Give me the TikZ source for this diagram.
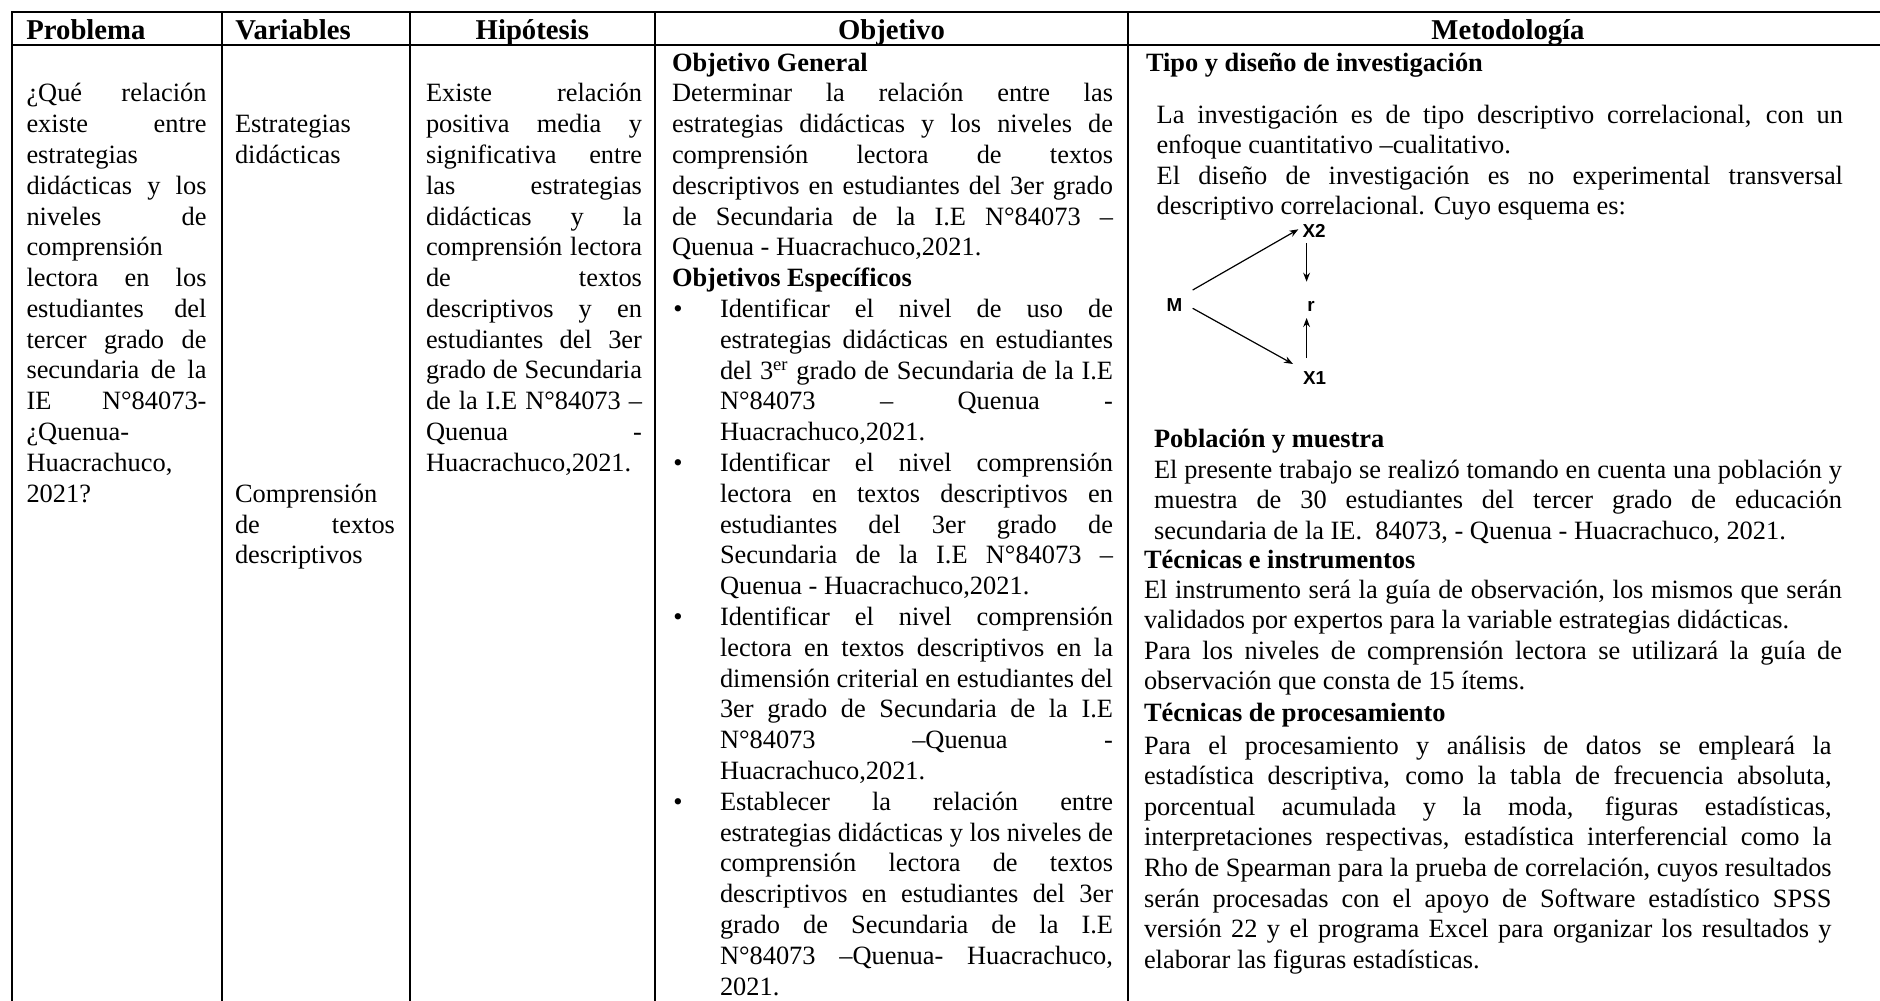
\documentclass[tikz,border=0pt]{standalone}
\usepackage{fontspec}
\setmainfont{Liberation Serif}
\newfontfamily\diagfont{Liberation Sans}
\usepackage{graphicx}
\usetikzlibrary{arrows.meta}
\newlength\jtmp
\newcommand\J[1]{{\spaceskip=0pt\xspaceskip=0pt\settowidth\jtmp{#1}\ifdim\jtmp>\linewidth\pgfmathsetmacro\jfac{\linewidth/\jtmp}\scalebox{\jfac}[1]{#1}\else\makebox[\linewidth][s]{#1}\fi}}
\newcommand\bodyfont{\fontsize{13.2}{15.4}\selectfont}
\newcommand\metfont{\fontsize{13.2}{15.3}\selectfont}
\newcommand\headfont{\fontsize{14.35}{16}\selectfont\bfseries}
\begin{document}
\begin{tikzpicture}[x=0.5pt,y=-0.5pt,
  grid/.style={line width=1.1pt},
  cell/.style={anchor=base west,inner sep=0pt,outer sep=0pt,align=justify,font=\bodyfont},
  mcell/.style={anchor=base west,inner sep=0pt,outer sep=0pt,align=justify,font=\metfont},
  hd/.style={anchor=base,inner sep=0pt,font=\headfont},
  bul/.style={anchor=base,inner sep=0pt,font=\bodyfont},
  lab/.style={inner sep=0pt,font=\diagfont\bfseries\fontsize{9.4}{11}\selectfont},
  arr/.style={line width=0.6pt,-{Stealth[length=4.5pt,width=3.4pt]}}]
\useasboundingbox (0,0) rectangle (1880,1001);
% grid
\draw[grid] (1880,11.7) -- (11.7,11.7) -- (11.7,1001);
\draw[grid] (11.7,45) -- (1880,45);
\foreach \xx in {221.7,409.6,655,1128} \draw[grid] (\xx,11.7) -- (\xx,1001);
% headers
\node[hd,anchor=base west] (hP) at (26,39.5) {Problema};
\node[hd,anchor=base west] (hV) at (235,39.5) {Variables};
\node[hd] (hH) at (532.3,39.5) {Hipótesis};
\node[hd] (hO) at (891.5,39.5) {Objetivo};
\node[hd] (hM) at (1508,39.5) {Metodología};
% Problema
\node[cell,text width=90pt] (prob) at (26.5,101.8) {%
\J{¿Qué relación}\\
\J{existe entre}\\
estrategias\\
\J{didácticas y los}\\
\J{niveles de}\\
comprensión\\
\J{lectora en los}\\
\J{estudiantes del}\\
\J{tercer grado de}\\
\J{secundaria de la}\\
\J{IE N°84073-}\\
¿Quenua-\\
Huacrachuco,\\
2021?};
% Variables
\node[cell,text width=80pt] (var1) at (235,132.6) {Estrategias\\didácticas};
\node[cell,text width=80pt] (var2) at (235,502.2) {Comprensión\\\J{de textos}\\descriptivos};
% Hipotesis
\node[cell,text width=108pt] (hip) at (426,101.8) {%
\J{Existe relación}\\
\J{positiva media y}\\
\J{significativa entre}\\
\J{las estrategias}\\
\J{didácticas y la}\\
\J{comprensión lectora}\\
\J{de textos}\\
\J{descriptivos y en}\\
\J{estudiantes del 3er}\\
\J{grado de Secundaria}\\
\J{de la I.E N°84073 –}\\
\J{Quenua -}\\
Huacrachuco,2021.};
% Objetivo
\node[cell,font=\bodyfont\bfseries] (ogh) at (672,71) {Objetivo General};
\node[cell,text width=220.5pt] (ogt) at (672,101.8) {%
\J{Determinar la relación entre las}\\
\J{estrategias didácticas y los niveles de}\\
\J{comprensión lectora de textos}\\
\J{descriptivos en estudiantes del 3er grado}\\
\J{de Secundaria de la I.E N°84073 –}\\
Quenua - Huacrachuco,2021.};
\node[cell,font=\bodyfont\bfseries] (oeh) at (672,286.6) {Objetivos Específicos};
\node[bul] (d1) at (678,317.4) {\textbullet};
\node[cell,text width=196.5pt] (b1) at (720,317.4) {%
\J{Identificar el nivel de uso de}\\
\J{estrategias didácticas en estudiantes}\\
\J{del 3\textsuperscript{er} grado de Secundaria de la I.E}\\
\J{N°84073 – Quenua -}\\
Huacrachuco,2021.};
\node[bul] (d2) at (678,471.4) {\textbullet};
\node[cell,text width=196.5pt] (b2) at (720,471.4) {%
\J{Identificar el nivel comprensión}\\
\J{lectora en textos descriptivos en}\\
\J{estudiantes del 3er grado de}\\
\J{Secundaria de la I.E N°84073 –}\\
Quenua - Huacrachuco,2021.};
\node[bul] (d3) at (678,625.4) {\textbullet};
\node[cell,text width=196.5pt] (b3) at (720,625.4) {%
\J{Identificar el nivel comprensión}\\
\J{lectora en textos descriptivos en la}\\
\J{dimensión criterial en estudiantes del}\\
\J{3er grado de Secundaria de la I.E}\\
\J{N°84073 –Quenua -}\\
Huacrachuco,2021.};
\node[bul] (d4) at (678,810.2) {\textbullet};
\node[cell,text width=196.5pt] (b4) at (720,810.2) {%
\J{Establecer la relación entre}\\
\J{estrategias didácticas y los niveles de}\\
\J{comprensión lectora de textos}\\
\J{descriptivos en estudiantes del 3er}\\
\J{grado de Secundaria de la I.E}\\
\J{N°84073 –Quenua- Huacrachuco,}\\
2021.};
% Metodologia
\node[mcell,font=\metfont\bfseries] (m1) at (1146,71) {Tipo y diseño de investigación};
\node[mcell,text width=343.15pt] (m2) at (1156.7,123) {%
\J{La investigación es de tipo descriptivo correlacional, con un}\\
enfoque cuantitativo –cualitativo.\\
\J{El diseño de investigación es no experimental transversal}\\
descriptivo correlacional. Cuyo esquema es:};
\node[lab] (M) at (1174.5,305) {M};
\node[lab] (X2) at (1314,231) {X2};
\node[lab] (r) at (1311,306) {r};
\node[lab] (X1) at (1314.5,378) {X1};
\draw[arr] ([shift={(18.2,-15)}]M.center) -- ([shift={(-15.6,-1.7)}]X2.center);
\draw[arr] ([shift={(18.2,3.3)}]M.center) -- ([shift={(-21.5,-14)}]X1.center);
\draw[arr] ([shift={(-7.4,12)}]X2.center) -- ([shift={(-4.4,-24.3)}]r.center);
\draw[arr] ([shift={(-7.9,-20)}]X1.center) -- ([shift={(-4.4,12)}]r.center);
\node[mcell,font=\metfont\bfseries] (m4) at (1154,447) {Población y muestra};
\node[mcell,text width=344pt] (m5) at (1154,478) {%
\J{El presente trabajo se realizó tomando en cuenta una población y}\\
\J{muestra de 30 estudiantes del tercer grado de educación}\\
secundaria de la IE.\ \ 84073, - Quenua - Huacrachuco, 2021.};
\node[mcell,font=\metfont\bfseries] (m6) at (1144,568) {Técnicas e instrumentos};
\node[mcell,text width=349pt] (m7) at (1144,598) {%
\J{El instrumento será la guía de observación, los mismos que serán}\\
validados por expertos para la variable estrategias didácticas.\\
\J{Para los niveles de comprensión lectora se utilizará la guía de}\\
observación que consta de 15 ítems.};
\node[mcell,font=\metfont\bfseries] (m9) at (1144,721) {Técnicas de procesamiento};
\node[mcell,text width=343.8pt] (m10) at (1144,754) {%
\J{Para el procesamiento y análisis de datos se empleará la}\\
\J{estadística descriptiva, como la tabla de frecuencia absoluta,}\\
\J{porcentual acumulada y la moda, figuras estadísticas,}\\
\J{interpretaciones respectivas, estadística interferencial como la}\\
\J{Rho de Spearman para la prueba de correlación, cuyos resultados}\\
\J{serán procesadas con el apoyo de Software estadístico SPSS}\\
\J{versión 22 y el programa Excel para organizar los resultados y}\\
elaborar las figuras estadísticas.};
\end{tikzpicture}
\end{document}
